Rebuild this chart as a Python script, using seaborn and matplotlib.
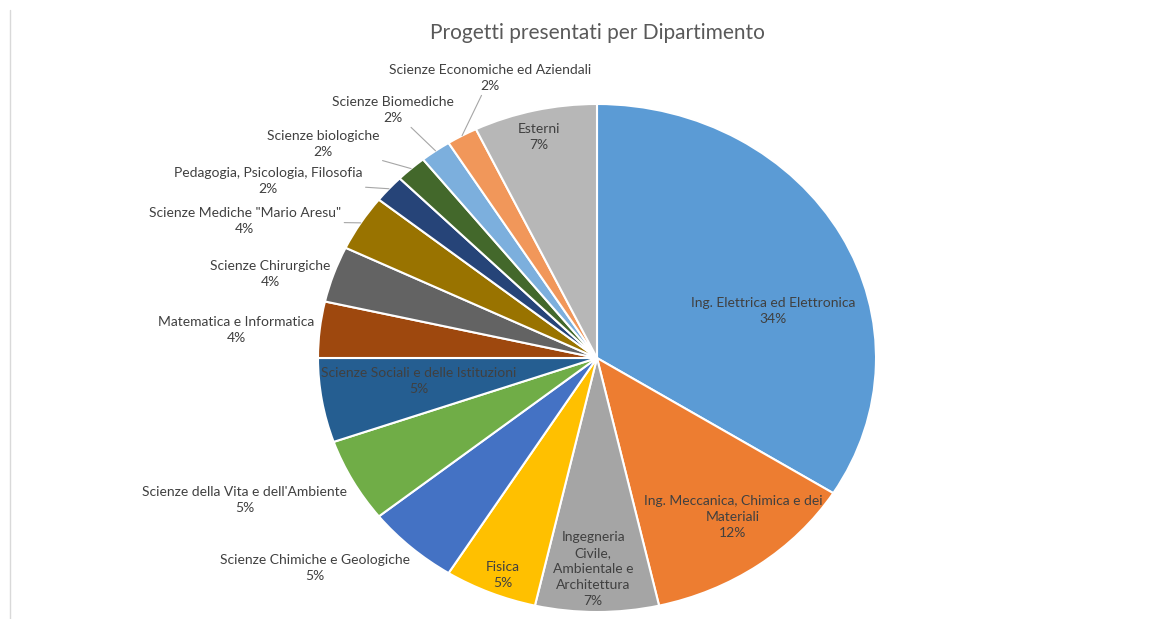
import seaborn as sns
import matplotlib.pyplot as plt
import numpy as np

# slices in clockwise order starting at 12 o'clock
departments = [
    "Ing. Elettrica ed Elettronica",
    "Ing. Meccanica, Chimica e dei\nMateriali",
    "Ingegneria\nCivile,\nAmbientale e\nArchitettura",
    "Fisica",
    "Scienze Chimiche e Geologiche",
    "Scienze della Vita e dell'Ambiente",
    "Scienze Sociali e delle Istituzioni",
    "Matematica e Informatica",
    "Scienze Chirurgiche",
    "Scienze Mediche \"Mario Aresu\"",
    "Pedagogia, Psicologia, Filosofia",
    "Scienze biologiche",
    "Scienze Biomediche",
    "Scienze Economiche ed Aziendali",
    "Esterni",
]
# number of projects and the percentages printed on the chart
projects = [19, 7, 4, 3, 3, 3, 3, 2, 2, 2, 1, 1, 1, 1, 4]
pct_labels = ["34%", "12%", "7%", "5%", "5%", "5%", "5%", "4%", "4%", "4%",
              "2%", "2%", "2%", "2%", "7%"]
colors = ["#5B9BD5", "#ED7D31", "#A5A5A5", "#FFC000", "#4472C4", "#70AD47",
          "#255E91", "#9E480E", "#636363", "#997300", "#264478", "#43682B",
          "#7CAFDD", "#F1975A", "#B7B7B7"]

# label layout (axes data units, pie radius = 1) and which ones get a leader line
label_pos = [(0.63, 0.185), (0.487, -0.626), (-0.014, -0.831), (-0.337, -0.854),
             (-1.011, -0.827), (-1.262, -0.559), (-0.638, -0.091), (-1.294, 0.110),
             (-1.172, 0.331), (-1.262, 0.539), (-1.179, 0.697), (-0.982, 0.843),
             (-0.731, 0.976), (-0.384, 1.102), (-0.208, 0.870)]
leader = [False] * 9 + [True] * 5 + [False]


def main():
    sns.set_theme(style="white")
    plt.rcParams['font.family'] = ['Lato', 'DejaVu Sans']

    fig = plt.figure(figsize=(11.76, 6.19), dpi=100)
    ax = fig.add_axes([0.2704, 0.0113, 0.4745, 0.8207])

    wedges, _ = ax.pie(projects, colors=colors, startangle=90, counterclock=False,
                       wedgeprops=dict(edgecolor="white", linewidth=1.5))
    ax.set_aspect('auto')
    ax.set_xlim(-1, 1)
    ax.set_ylim(-1, 1)
    ax.axis('off')

    for w, name, pct, (tx, ty), line in zip(wedges, departments, pct_labels,
                                             label_pos, leader):
        txt = f"{name}\n{pct}"
        if line:
            mid = np.deg2rad((w.theta1 + w.theta2) / 2)
            ax.annotate(txt, xy=(np.cos(mid), np.sin(mid)), xytext=(tx, ty),
                        ha="center", va="center", fontsize=10, color="#404040",
                        linespacing=1.4,
                        arrowprops=dict(arrowstyle="-", color="#a6a6a6", lw=0.8,
                                        shrinkA=0, shrinkB=0))
        else:
            ax.text(tx, ty, txt, ha="center", va="center", fontsize=10,
                    color="#404040", linespacing=1.4)

    fig.text(597 / 1176, 1 - 33 / 619, "Progetti presentati per Dipartimento",
             ha="center", va="center", fontsize=15, color="#595959")
    fig.add_artist(plt.Line2D([10 / 1176, 10 / 1176], [0, 1 - 10 / 619],
                              color="#d9d9d9", lw=1))

    fig.savefig("out.png", dpi=100, facecolor="white")


if __name__ == "__main__":
    main()
